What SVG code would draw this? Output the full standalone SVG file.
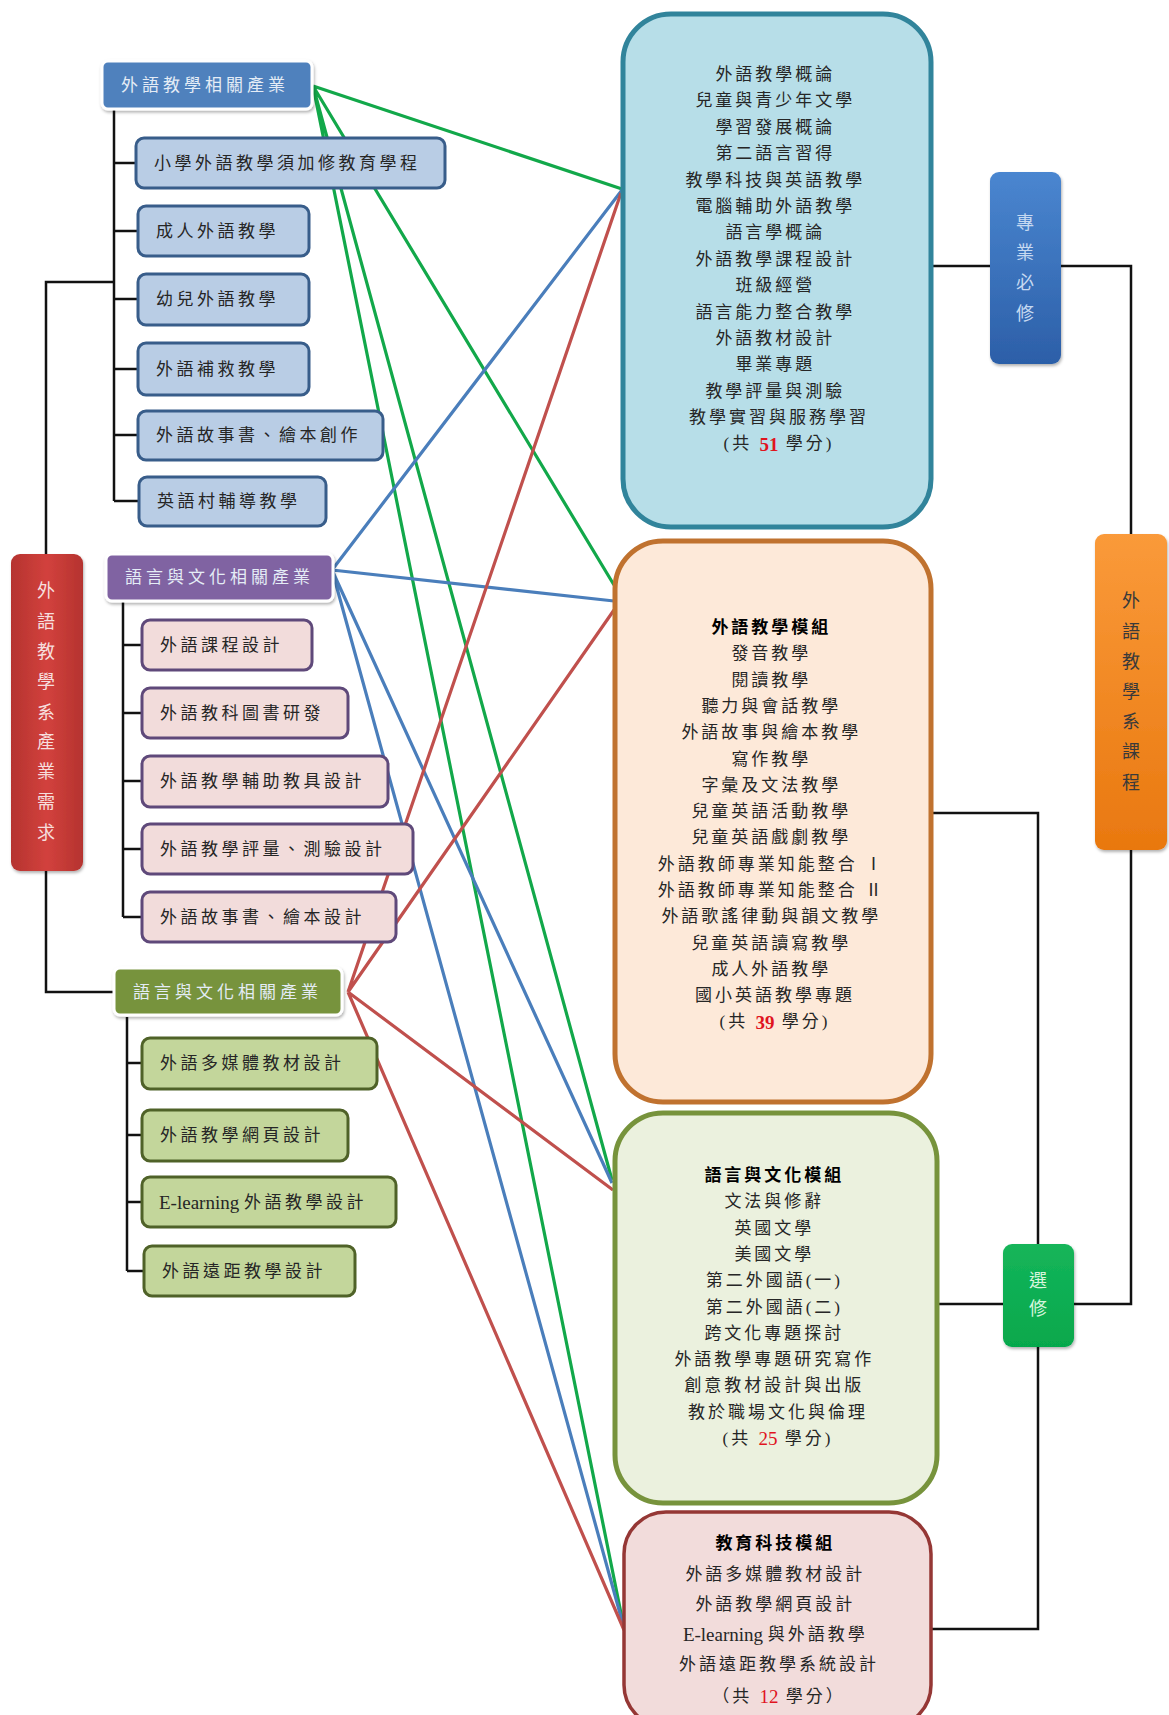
<svg xmlns="http://www.w3.org/2000/svg" width="1169" height="1715" viewBox="0 0 1169 1715">
<defs>
  <linearGradient id="gRed" x1="0" y1="0" x2="1" y2="0">
    <stop offset="0" stop-color="#B5332F"/><stop offset="0.5" stop-color="#D2413D"/><stop offset="1" stop-color="#B5332F"/>
  </linearGradient>
  <linearGradient id="gBlue" x1="0" y1="0" x2="0" y2="1">
    <stop offset="0" stop-color="#4A86D0"/><stop offset="1" stop-color="#2C5FA8"/>
  </linearGradient>
  <linearGradient id="gOrange" x1="0" y1="0" x2="0" y2="1">
    <stop offset="0" stop-color="#FA9A3A"/><stop offset="1" stop-color="#E9780F"/>
  </linearGradient>
  <linearGradient id="gGreen" x1="0" y1="0" x2="0" y2="1">
    <stop offset="0" stop-color="#15B55A"/><stop offset="1" stop-color="#06A84C"/>
  </linearGradient>
  <filter id="sh" x="-20%" y="-20%" width="140%" height="140%">
    <feDropShadow dx="1" dy="2" stdDeviation="1.5" flood-color="#000" flood-opacity="0.3"/>
  </filter>
</defs>
<style>
  text { font-family: "Liberation Serif", "Noto Sans CJK TC", serif; dominant-baseline: central; }
  .t { font-size: 17px; letter-spacing: 3.5px; fill: #262626; }
  .hd { font-size: 17px; letter-spacing: 4px; fill: #E4ECF6; }
  .bt { font-size: 17px; letter-spacing: 3px; fill: #262626; text-anchor: middle; }
  .ti { font-weight: bold; fill: #000; }
  .num { fill: #E0141E; font-weight: bold; font-size: 19px; letter-spacing: 0; }
  .numr { fill: #E0141E; font-size: 19px; letter-spacing: 0; }
  .v { font-size: 18px; text-anchor: middle; }
  .tree { fill: none; stroke: #111; stroke-width: 2.5; }
  .c1 { fill: #B9CDE5; stroke: #385D8A; stroke-width: 3; }
  .c2 { fill: #F2DCDB; stroke: #5F497A; stroke-width: 3; }
  .c3 { fill: #C3D69B; stroke: #4F6228; stroke-width: 3; }
  .hdr { stroke: #FFFFFF; stroke-width: 3; }
  .cg { stroke: #12A84A; stroke-width: 3.2; fill: none; }
  .cb { stroke: #4A7EBB; stroke-width: 3.2; fill: none; }
  .cr { stroke: #C0504D; stroke-width: 3.2; fill: none; }
</style>

<g id="tree-lines">
  <path class="tree" d="M46,554 V282 H114"/>
  <path class="tree" d="M46,871 V992 H114"/>
  <path class="tree" d="M114,109 V501 M114,163 H135 M114,231 H138 M114,299 H138 M114,369 H138 M114,435 H138 M114,501 H139"/>
  <path class="tree" d="M123,601 V917 M123,645 H142 M123,713 H142 M123,781 H142 M123,849 H142 M123,917 H142"/>
  <path class="tree" d="M127,1017 V1271 M127,1063 H142 M127,1135 H142 M127,1202 H142 M127,1271 H144"/>
  <path class="tree" d="M931,266 H990"/>
  <path class="tree" d="M1061,266 H1131 V534"/>
  <path class="tree" d="M1131,850 V1304 H1074"/>
  <path class="tree" d="M931,813 H1038 V1244"/>
  <path class="tree" d="M937,1304 H1003"/>
  <path class="tree" d="M1038,1347 V1629 H931"/>
</g>

<g id="connectors">
  <path class="cg" d="M313,86 L622,189 M313,86 L614,585 M313,86 L612,1180 M313,86 L624,1628"/>
  <path class="cb" d="M332,570 L622,190 M332,570 L614,601 M332,570 L612,1183 M332,570 L624,1628"/>
  <path class="cr" d="M348,992 L621,193 M348,992 L614,610 M348,992 L613,1190 M348,992 L624,1630"/>
</g>

<g id="root-industry">
  <rect x="11" y="554" width="72" height="317" rx="9" fill="url(#gRed)" filter="url(#sh)"/>
  <text class="v" fill="#F6DEDD"><tspan x="46" y="591">外</tspan><tspan x="46" y="622">語</tspan><tspan x="46" y="652">教</tspan><tspan x="46" y="682">學</tspan><tspan x="46" y="713">系</tspan><tspan x="46" y="742">產</tspan><tspan x="46" y="772">業</tspan><tspan x="46" y="802">需</tspan><tspan x="46" y="833">求</tspan></text>
</g>

<g id="group1-header">
  <rect class="hdr" x="102" y="61" width="210" height="48" rx="6" fill="#4F81BD" filter="url(#sh)"/>
  <text class="hd" x="121" y="85">外語教學相關產業</text>
</g>
<g id="g1-c1"><rect class="c1" x="136" y="138" width="309" height="50" rx="8"/><text class="t" x="154" y="163">小學外語教學須加修教育學程</text></g>
<g id="g1-c2"><rect class="c1" x="138" y="206" width="171" height="50" rx="8"/><text class="t" x="156" y="231">成人外語教學</text></g>
<g id="g1-c3"><rect class="c1" x="138" y="274" width="171" height="51" rx="8"/><text class="t" x="156" y="299">幼兒外語教學</text></g>
<g id="g1-c4"><rect class="c1" x="138" y="343" width="171" height="52" rx="8"/><text class="t" x="156" y="369">外語補救教學</text></g>
<g id="g1-c5"><rect class="c1" x="138" y="411" width="245" height="49" rx="8"/><text class="t" x="156" y="435">外語故事書、繪本創作</text></g>
<g id="g1-c6"><rect class="c1" x="139" y="477" width="187" height="49" rx="8"/><text class="t" x="157" y="501">英語村輔導教學</text></g>

<g id="group2-header">
  <rect class="hdr" x="106" y="554" width="227" height="47" rx="6" fill="#8064A2" filter="url(#sh)"/>
  <text class="hd" x="125" y="577">語言與文化相關產業</text>
</g>
<g id="g2-c1"><rect class="c2" x="142" y="620" width="170" height="50" rx="8"/><text class="t" x="160" y="645">外語課程設計</text></g>
<g id="g2-c2"><rect class="c2" x="142" y="688" width="206" height="50" rx="8"/><text class="t" x="160" y="713">外語教科圖書研發</text></g>
<g id="g2-c3"><rect class="c2" x="142" y="756" width="246" height="51" rx="8"/><text class="t" x="160" y="781">外語教學輔助教具設計</text></g>
<g id="g2-c4"><rect class="c2" x="142" y="824" width="271" height="50" rx="8"/><text class="t" x="160" y="849">外語教學評量、測驗設計</text></g>
<g id="g2-c5"><rect class="c2" x="142" y="892" width="254" height="50" rx="8"/><text class="t" x="160" y="917">外語故事書、繪本設計</text></g>

<g id="group3-header">
  <rect class="hdr" x="114" y="968" width="228" height="47" rx="6" fill="#77933C" filter="url(#sh)"/>
  <text class="hd" x="133" y="992">語言與文化相關產業</text>
</g>
<g id="g3-c1"><rect class="c3" x="142" y="1038" width="235" height="51" rx="8"/><text class="t" x="160" y="1063">外語多媒體教材設計</text></g>
<g id="g3-c2"><rect class="c3" x="142" y="1110" width="206" height="51" rx="8"/><text class="t" x="160" y="1135">外語教學網頁設計</text></g>
<g id="g3-c3"><rect class="c3" x="142" y="1177" width="254" height="50" rx="8"/><text class="t" x="159" y="1202"><tspan font-size="19" letter-spacing="0">E-learning </tspan>外語教學設計</text></g>
<g id="g3-c4"><rect class="c3" x="144" y="1246" width="211" height="50" rx="8"/><text class="t" x="162" y="1271">外語遠距教學設計</text></g>

<g id="required-courses">
  <rect x="623" y="14" width="308" height="513" rx="48" fill="#B7DEE8" stroke="#31849B" stroke-width="5"/>
  <text class="bt">
    <tspan x="779" y="74">外語教學概論</tspan>
    <tspan x="779" y="100.4">兒童與青少年文學</tspan>
    <tspan x="779" y="126.8">學習發展概論</tspan>
    <tspan x="779" y="153.2">第二語言習得</tspan>
    <tspan x="779" y="179.6">教學科技與英語教學</tspan>
    <tspan x="779" y="206">電腦輔助外語教學</tspan>
    <tspan x="779" y="232.4">語言學概論</tspan>
    <tspan x="779" y="258.8">外語教學課程設計</tspan>
    <tspan x="779" y="285.2">班級經營</tspan>
    <tspan x="779" y="311.6">語言能力整合教學</tspan>
    <tspan x="779" y="338">外語教材設計</tspan>
    <tspan x="779" y="364.4">畢業專題</tspan>
    <tspan x="779" y="390.8">教學評量與測驗</tspan>
    <tspan x="779" y="417.2">教學實習與服務學習</tspan>
  </text>
  <text class="bt" x="779" y="443.6">(共 <tspan class="num">51</tspan> 學分)</text>
</g>

<g id="module-teaching">
  <rect x="615" y="541" width="316" height="561" rx="48" fill="#FDE9D9" stroke="#C0722F" stroke-width="5"/>
  <text class="bt">
    <tspan x="775" y="627" class="ti">外語教學模組</tspan>
    <tspan x="775" y="653.3">發音教學</tspan>
    <tspan x="775" y="679.6">閱讀教學</tspan>
    <tspan x="775" y="705.9">聽力與會話教學</tspan>
    <tspan x="775" y="732.2">外語故事與繪本教學</tspan>
    <tspan x="775" y="758.5">寫作教學</tspan>
    <tspan x="775" y="784.8">字彙及文法教學</tspan>
    <tspan x="775" y="811.1">兒童英語活動教學</tspan>
    <tspan x="775" y="837.4">兒童英語戲劇教學</tspan>
    <tspan x="775" y="863.7">外語教師專業知能整合 Ⅰ</tspan>
    <tspan x="775" y="890">外語教師專業知能整合 Ⅱ</tspan>
    <tspan x="775" y="916.3">外語歌謠律動與韻文教學</tspan>
    <tspan x="775" y="942.6">兒童英語讀寫教學</tspan>
    <tspan x="775" y="968.9">成人外語教學</tspan>
    <tspan x="775" y="995.2">國小英語教學專題</tspan>
  </text>
  <text class="bt" x="775" y="1021.5">(共 <tspan class="num">39</tspan> 學分)</text>
</g>

<g id="module-culture">
  <rect x="615" y="1113" width="322" height="390" rx="48" fill="#EBF1DE" stroke="#77933C" stroke-width="5"/>
  <text class="bt">
    <tspan x="778" y="1175" class="ti">語言與文化模組</tspan>
    <tspan x="778" y="1201.3">文法與修辭</tspan>
    <tspan x="778" y="1227.6">英國文學</tspan>
    <tspan x="778" y="1253.9">美國文學</tspan>
    <tspan x="778" y="1280.2">第二外國語(一)</tspan>
    <tspan x="778" y="1306.5">第二外國語(二)</tspan>
    <tspan x="778" y="1332.8">跨文化專題探討</tspan>
    <tspan x="778" y="1359.1">外語教學專題研究寫作</tspan>
    <tspan x="778" y="1385.4">創意教材設計與出版</tspan>
    <tspan x="778" y="1411.7">教於職場文化與倫理</tspan>
  </text>
  <text class="bt" x="778" y="1438">(共 <tspan class="numr">25</tspan> 學分)</text>
</g>

<g id="module-edtech">
  <rect x="624" y="1512" width="307" height="215" rx="42" fill="#F2DCDB" stroke="#953735" stroke-width="3.5"/>
  <text class="bt">
    <tspan x="779" y="1543" class="ti">教育科技模組</tspan>
    <tspan x="779" y="1574">外語多媒體教材設計</tspan>
    <tspan x="779" y="1604">外語教學網頁設計</tspan>
    <tspan x="779" y="1634"><tspan font-size="19" letter-spacing="0">E-learning </tspan>與外語教學</tspan>
    <tspan x="779" y="1664">外語遠距教學系統設計</tspan>
  </text>
  <text class="bt" x="779" y="1696">（共 <tspan class="numr">12</tspan> 學分）</text>
</g>

<g id="required-label">
  <rect x="990" y="172" width="71" height="192" rx="9" fill="url(#gBlue)" filter="url(#sh)"/>
  <text class="v" fill="#C6D9F1"><tspan x="1025" y="223">專</tspan><tspan x="1025" y="253">業</tspan><tspan x="1025" y="283">必</tspan><tspan x="1025" y="314">修</tspan></text>
</g>

<g id="curriculum-root">
  <rect x="1095" y="534" width="72" height="316" rx="9" fill="url(#gOrange)" filter="url(#sh)"/>
  <text class="v" fill="#3A3A3A"><tspan x="1131" y="601">外</tspan><tspan x="1131" y="632">語</tspan><tspan x="1131" y="662">教</tspan><tspan x="1131" y="692">學</tspan><tspan x="1131" y="722">系</tspan><tspan x="1131" y="752">課</tspan><tspan x="1131" y="783">程</tspan></text>
</g>

<g id="elective-label">
  <rect x="1003" y="1244" width="71" height="103" rx="9" fill="url(#gGreen)" filter="url(#sh)"/>
  <text class="v" fill="#D6F5DC"><tspan x="1038" y="1281">選</tspan><tspan x="1038" y="1309">修</tspan></text>
</g>
</svg>
